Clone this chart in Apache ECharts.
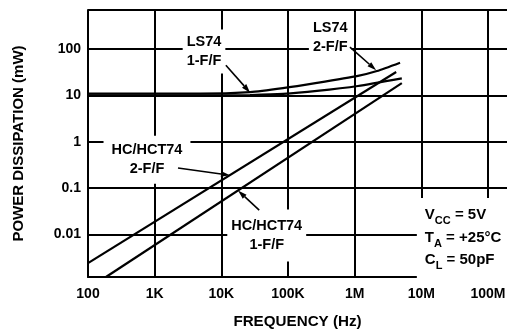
<!DOCTYPE html>
<html>
<head>
<meta charset="utf-8">
<script src="https://cdn.jsdelivr.net/npm/echarts@6/dist/echarts.min.js"></script>
<style>
  html, body { margin: 0; padding: 0; background: #fff; }
  #chart { width: 507px; height: 330px; }
</style>
</head>
<body>
<div id="chart"></div>
<script>
// Supply power versus clock frequency: [frequency (Hz), power (mW)]
const ls74OneFF = [[100, 10], [1000, 10], [10000, 10], [27000, 10.2], [84000, 10.8], [272000, 12.5], [1120000, 16], [5100000, 23.4]];
const ls74TwoFF = [[100, 10.9], [1000, 10.9], [4800, 10.9], [27000, 11.8], [84000, 14.4], [272000, 18.7], [1120000, 26.4], [2160000, 33.6], [4800000, 51]];
const hcOneFF = [[186, 0.0012], [5100000, 18.5]];
const hcTwoFF = [[100, 0.0024], [4200000, 32]];

// Axis ticks
const xTickValues = [1e2, 1e3, 1e4, 1e5, 1e6, 1e7, 1e8];
const xTickLabels = ['100', '1K', '10K', '100K', '1M', '10M', '100M'];
const yTickValues = [100, 10, 1, 0.1, 0.01];
const yTickLabels = ['100', '10', '1', '0.1', '0.01'];

// Callouts, anchored in data space
const callouts = [
  { text: 'LS74\n1-F/F', at: [5.5e3, 89], pad: [3, 4, 3, 4] },
  { text: 'LS74\n2-F/F', at: [4.3e5, 174], pad: [3, 4, 3, 4] },
  { text: 'HC/HCT74\n2-F/F', at: [767, 0.41], pad: [6, 8, 4, 8] },
  { text: 'HC/HCT74\n1-F/F', at: [4.8e4, 0.0094], pad: [8, 4, 6, 4] }
];
const arrows = [
  { from: [1.17e4, 45], to: [2.7e4, 11.5] },
  { from: [8.5e5, 111], to: [2.1e6, 35] },
  { from: [2.24e3, 0.27], to: [1.35e4, 0.19] },
  { from: [3.7e4, 0.0335], to: [1.78e4, 0.088] }
];
const conditionsAt = [1.13e7, 0.043];

const FONT = '"Liberation Sans", Arial, Helvetica, sans-serif';

function tickLabel(values, labels) {
  return function (v) {
    for (let i = 0; i < values.length; i++) {
      if (Math.abs(Math.log10(v) - Math.log10(values[i])) < 1e-6) return labels[i];
    }
    return '';
  };
}

function lineSeries(data) {
  return {
    type: 'line',
    data: data,
    symbol: 'none',
    smooth: 0.2,
    lineStyle: { color: '#000', width: 2.2 },
    clip: true,
    silent: true
  };
}

const chart = echarts.init(document.getElementById('chart'), null, { renderer: 'canvas' });

chart.setOption({
  animation: false,
  backgroundColor: '#fff',
  grid: { left: 88, top: 10, right: 0, bottom: 53, containLabel: false, outerBoundsMode: 'none' },
  xAxis: {
    type: 'log',
    logBase: 10,
    min: 100,
    max: 1.93e8,
    name: 'FREQUENCY (Hz)',
    nameLocation: 'middle',
    nameGap: 37,
    nameTextStyle: { fontFamily: FONT, fontWeight: 'bold', fontSize: 15.2, color: '#000' },
    axisLine: { lineStyle: { color: '#000', width: 2 } },
    axisTick: { show: false },
    axisLabel: {
      margin: 10, color: '#000', fontFamily: FONT, fontWeight: 'bold', fontSize: 14,
      formatter: tickLabel(xTickValues, xTickLabels), hideOverlap: false
    },
    splitLine: { show: true, showMaxLine: false, lineStyle: { color: '#000', width: 2 } }
  },
  yAxis: {
    type: 'log',
    logBase: 10,
    min: 0.0012,
    max: 700,
    name: 'POWER DISSIPATION (mW)',
    nameLocation: 'middle',
    nameGap: 62,
    nameTextStyle: { fontFamily: FONT, fontWeight: 'bold', fontSize: 15, color: '#000' },
    axisLine: { show: true, lineStyle: { color: '#000', width: 2 } },
    axisTick: { show: false },
    axisLabel: {
      margin: 7, color: '#000', fontFamily: FONT, fontWeight: 'bold', fontSize: 14,
      formatter: tickLabel(yTickValues, yTickLabels), hideOverlap: false
    },
    splitLine: { show: true, lineStyle: { color: '#000', width: 2 } }
  },
  series: [
    lineSeries(ls74OneFF),
    lineSeries(ls74TwoFF),
    lineSeries(hcOneFF),
    lineSeries(hcTwoFF)
  ]
});

function px(pt) {
  return chart.convertToPixel({ gridIndex: 0 }, pt);
}

function arrowElements(a) {
  const p0 = px(a.from);
  const p1 = px(a.to);
  const dx = p1[0] - p0[0], dy = p1[1] - p0[1];
  const len = Math.sqrt(dx * dx + dy * dy);
  const ux = dx / len, uy = dy / len;
  const headLen = 9, headHalf = 2.8;
  const bx = p1[0] - ux * headLen, by = p1[1] - uy * headLen;
  return [
    {
      type: 'line', z: 100,
      shape: { x1: p0[0], y1: p0[1], x2: bx, y2: by },
      style: { stroke: '#000', lineWidth: 1.6 }
    },
    {
      type: 'polygon', z: 100,
      shape: { points: [[p1[0], p1[1]], [bx - uy * headHalf, by + ux * headHalf], [bx + uy * headHalf, by - ux * headHalf]] },
      style: { fill: '#000' }
    }
  ];
}

const graphics = [];
callouts.forEach(function (c) {
  const p = px(c.at);
  graphics.push({
    type: 'text', z: 90, x: p[0], y: p[1],
    style: {
      text: c.text, fill: '#000', font: 'bold 14.5px ' + FONT,
      align: 'center', verticalAlign: 'middle', lineHeight: 19,
      backgroundColor: '#fff', padding: c.pad
    }
  });
});
arrows.forEach(function (a) { arrowElements(a).forEach(function (e) { graphics.push(e); }); });

// Test conditions block with subscripted symbols
const cp = px(conditionsAt);
graphics.push({
  type: 'text', z: 90, x: cp[0] - 8, y: cp[1] - 7,
  style: {
    text: '{t|V}{s|CC}{t| = 5V}\n{t|T}{s|A}{t| = +25°C}\n{t|C}{s|L}{t| = 50pF}',
    fill: '#000', align: 'left', verticalAlign: 'top',
    backgroundColor: '#fff', padding: [6, 10, 14, 8],
    rich: {
      t: { font: 'bold 15px ' + FONT, fill: '#000', lineHeight: 22.5, verticalAlign: 'middle' },
      s: { font: 'bold 11px ' + FONT, fill: '#000', lineHeight: 22.5, verticalAlign: 'bottom' }
    }
  }
});

chart.setOption({ graphic: graphics });
</script>
</body>
</html>
